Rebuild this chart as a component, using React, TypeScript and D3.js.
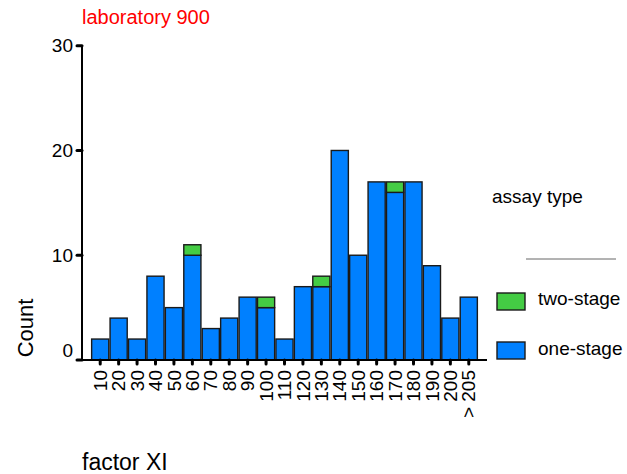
import React from "react";
import * as d3 from "d3";

const categories = ["10","20","30","40","50","60","70","80","90","100","110","120","130","140","150","160","170","180","190","200","> 205"];
const oneStage = [2,4,2,8,5,10,3,4,6,5,2,7,7,20,10,17,16,17,9,4,6];
const twoStage = [0,0,0,0,0,1,0,0,0,1,0,0,1,0,0,0,1,0,0,0,0];
const yTicks = [0,10,20,30];
const seriesNames = ["two-stage","one-stage"];
const seriesColors = ["#44CC44","#0080FF"];

const W = 627, H = 474;
const font = "Liberation Sans, Arial, Helvetica, sans-serif";

export default function App() {
  const x = d3.scaleBand<string>().domain(categories).range([91, 478]).paddingInner(0.07).paddingOuter(0.035);
  const y = d3.scaleLinear().domain([0, 30]).range([360, 45.7]);
  const axisX = 82;
  const stack = d3.stack<any>().keys(["one","two"])(categories.map((c, i) => ({ c, one: oneStage[i], two: twoStage[i] })));
  const colorFor = { one: seriesColors[1], two: seriesColors[0] } as any;

  return (
    <svg width={W} height={H} style={{ position: "absolute", left: 0, top: 0, background: "#fff" }} fontFamily={font}>
      <text x={82} y={24} fontSize={20} fill="#FF0000">laboratory 900</text>
      {stack.map((layer) =>
        layer.map((d, i) => d[1] - d[0] > 0 ? (
          <rect key={layer.key + i} x={x(categories[i])} y={y(d[1])} width={x.bandwidth()} height={y(d[0]) - y(d[1])}
            fill={colorFor[layer.key]} stroke="#1a1a1a" strokeWidth={1.4} />
        ) : null)
      )}
      <line x1={axisX} x2={axisX} y1={y(30)} y2={y(0)} stroke="#000" strokeWidth={2} />
      <line x1={axisX} x2={487} y1={y(0)} y2={y(0)} stroke="#000" strokeWidth={2} />
      {yTicks.map((t) => (
        <g key={t}>
          <line x1={axisX - 5} x2={axisX} y1={y(t)} y2={y(t)} stroke="#000" strokeWidth={3} strokeLinecap="round" />
          <text x={73} y={y(t) - (t === 0 ? 10 : 0)} dy="0.35em" textAnchor="end" fontSize={19} fill="#000">{t}</text>
        </g>
      ))}
      {categories.map((c) => {
        const cx = (x(c) as number) + x.bandwidth() / 2;
        return (
          <g key={c}>
            <line x1={cx} x2={cx} y1={y(0)} y2={y(0) + 4} stroke="#000" strokeWidth={3} strokeLinecap="round" />
            <text transform={`translate(${cx},${370}) rotate(-90)`} dy="0.35em" textAnchor="end" fontSize={19} fill="#000">{c}</text>
          </g>
        );
      })}
      <text transform={`translate(33,328) rotate(-90)`} textAnchor="middle" fontSize={22} fill="#000">Count</text>
      <text x={82} y={470} fontSize={23} fill="#000">factor XI</text>
      <text x={492} y={203} fontSize={19} fill="#000">assay type</text>
      <line x1={526} x2={616} y1={259} y2={259} stroke="#666" strokeWidth={1} />
      {seriesNames.map((s, i) => (
        <g key={s}>
          <rect x={497} y={293 + i * 49} width={28} height={17} fill={seriesColors[i]} stroke="#1a1a1a" strokeWidth={1.4} />
          <text x={538} y={305 + i * 50} fontSize={19} fill="#000">{s}</text>
        </g>
      ))}
    </svg>
  );
}
